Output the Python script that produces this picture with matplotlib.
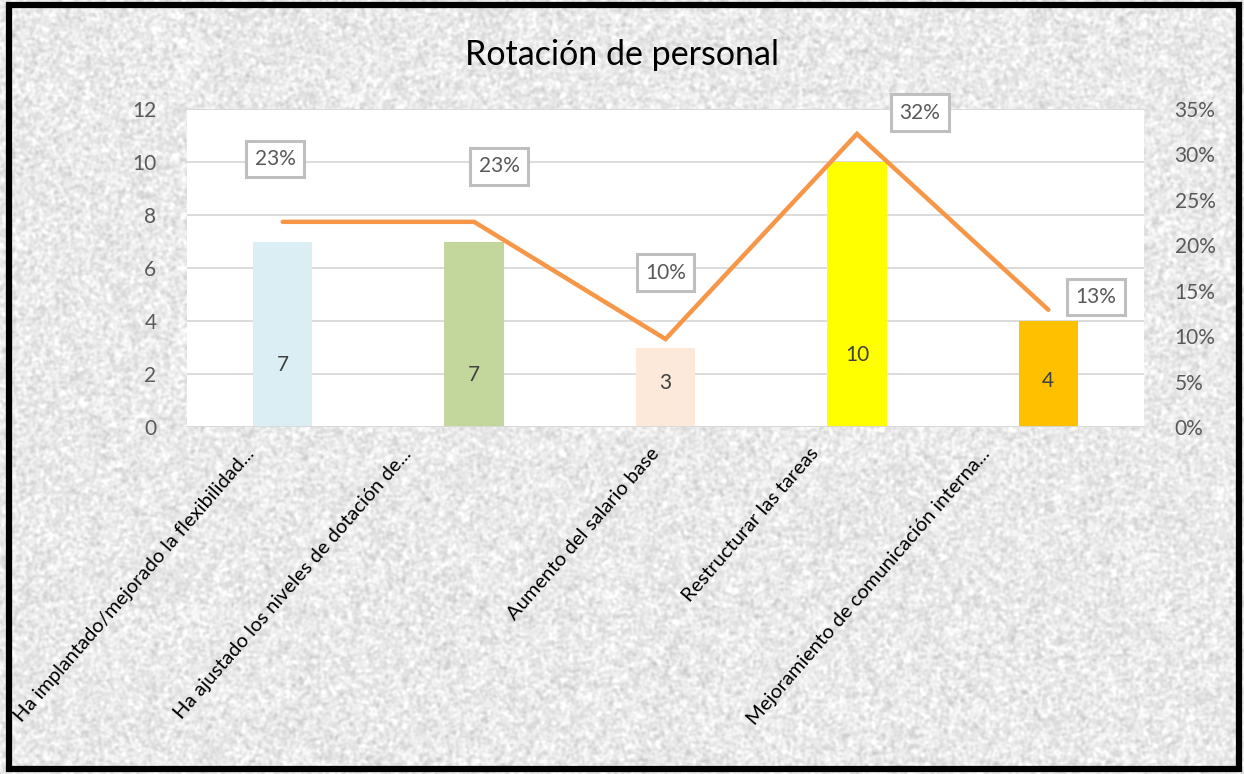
import matplotlib.pyplot as plt
from matplotlib.patches import Rectangle
import numpy as np

plt.rcParams['font.family'] = ['Lato', 'DejaVu Sans']

# datos de la encuesta
categorias = ["Ha implantado/mejorado la flexibilidad...",
              "Ha ajustado los niveles de dotación de...",
              "Aumento del salario base",
              "Restructurar las tareas",
              "Mejoramiento de comunicación interna..."]
respuestas = [7, 7, 3, 10, 4]
colores = ["#DAEEF3", "#C3D69B", "#FDE9D9", "#FFFF00", "#FFC000"]

total = sum(respuestas)
porcentajes = [r / total for r in respuestas]

# posiciones de las etiquetas (ajustadas a mano)
y_etiq_barra = [2.35, 1.95, 1.65, 2.7, 1.75]
y_etiq_pct = [0.295, 0.287, 0.170, 0.346, 0.143]
dx_etiq_pct = [-0.04, 0.13, 0.0, 0.33, 0.25]
dx_cat = [-38, -72, -16, -48, -68]

fig = plt.figure(figsize=(12.44, 7.74), dpi=100)

# fondo de papel texturizado
rng = np.random.default_rng(3)
ruido = rng.random((774, 1244))
for _ in range(4):
    ruido = (ruido + np.roll(ruido, 1, 0) + np.roll(ruido, -1, 0)
             + np.roll(ruido, 1, 1) + np.roll(ruido, -1, 1)) / 5
ruido = (ruido - ruido.mean()) / ruido.std()
fondo = np.clip(0.915 + 0.035 * ruido, 0, 1)
axf = fig.add_axes([0, 0, 1, 1], zorder=-10)
axf.imshow(fondo, cmap='gray', vmin=0, vmax=1, aspect='auto', interpolation='bilinear')
axf.axis('off')

# marco negro
fig.patches.append(Rectangle((9 / 1244, 5 / 774), 1230 / 1244, 764 / 774,
                             transform=fig.transFigure, fill=False,
                             edgecolor='black', linewidth=4.5))

ax = fig.add_axes([187 / 1244, 1 - 427 / 774, 957 / 1244, 318 / 774])
ax.set_facecolor('white')
x = np.arange(len(categorias))
ax.bar(x, respuestas, width=0.31, color=colores, zorder=3)
ax.set_ylim(0, 12)
ax.set_yticks(range(0, 13, 2))
ax.set_xlim(-0.5, 4.5)
ax.set_xticks([])
ax.grid(axis='y', color='#d9d9d9', linewidth=1.3, zorder=0)
for s in ax.spines.values():
    s.set_visible(False)
ax.axhline(12, color='#d9d9d9', linewidth=1.3, zorder=1)
ax.axhline(0, color='#d9d9d9', linewidth=1.3, zorder=4)
ax.tick_params(axis='y', length=0, pad=22, labelsize=15, labelcolor='#595959')

for i, v in enumerate(respuestas):
    ax.text(i, y_etiq_barra[i], str(v), ha='center', va='center',
            fontsize=15, color='#404040', zorder=5)

# etiquetas de categoría inclinadas
for i, c in enumerate(categorias):
    ax.annotate(c, xy=(i, 0), xycoords=('data', 'axes fraction'),
                xytext=(dx_cat[i], -18), textcoords='offset pixels',
                rotation=49, rotation_mode='anchor', ha='right', va='top',
                fontsize=14.5, color='black')

# eje secundario con el porcentaje
ax2 = ax.twinx()
ax2.plot(x, porcentajes, color='#F79646', linewidth=3.2,
         solid_capstyle='round', solid_joinstyle='miter', zorder=6)
ax2.set_ylim(0, 0.35)
ax2.set_yticks(np.arange(0, 0.351, 0.05))
ax2.set_yticklabels([f"{int(round(t * 100))}%" for t in np.arange(0, 0.351, 0.05)])
ax2.tick_params(axis='y', length=0, pad=22, labelsize=15, labelcolor='#595959')
for s in ax2.spines.values():
    s.set_visible(False)

for i, p in enumerate(porcentajes):
    ax2.text(i + dx_etiq_pct[i], y_etiq_pct[i], f"{round(p * 100):.0f}%",
             ha='center', va='center', fontsize=15, color='#595959', zorder=7,
             bbox=dict(boxstyle='square,pad=0.4', facecolor='white',
                       edgecolor='#bfbfbf', linewidth=2.2))

fig.text(0.5, 1 - 55 / 774, "Rotación de personal", ha='center', va='center',
         fontsize=24.5, color='black')

plt.savefig("out.png", dpi=100)
